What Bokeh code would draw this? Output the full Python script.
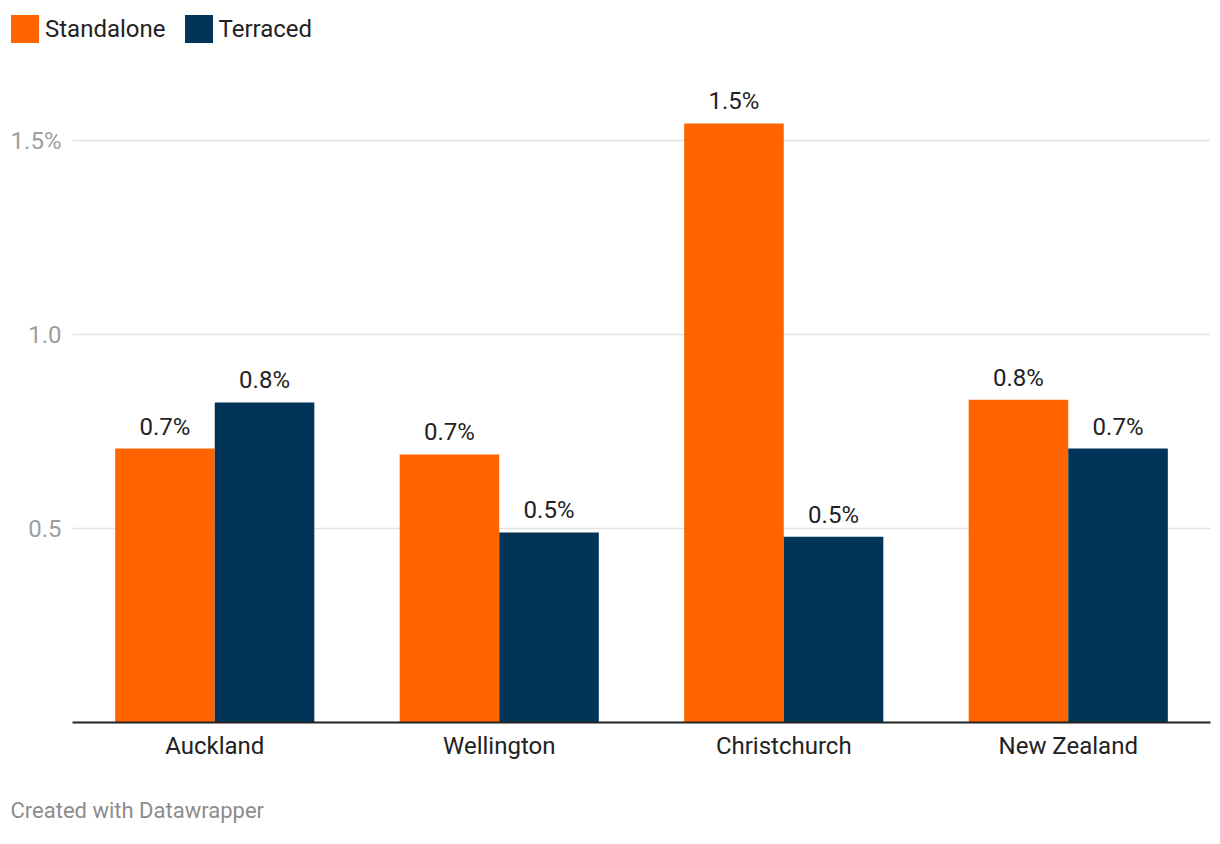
from bokeh.plotting import figure
from bokeh.models import ColumnDataSource, FactorRange, Range1d, FixedTicker, Legend, LegendItem, Title
from bokeh.layouts import column
from bokeh.transform import dodge
from bokeh.core.properties import value
from bokeh.embed import file_html
from bokeh.resources import INLINE

# ---- data ----
cities = ["Auckland", "Wellington", "Christchurch", "New Zealand"]
standalone = [0.706, 0.691, 1.544, 0.832]
terraced = [0.825, 0.490, 0.479, 0.706]
standalone_labels = ["0.7%", "0.7%", "1.5%", "0.8%"]
terraced_labels = ["0.8%", "0.5%", "0.5%", "0.7%"]
y_ticks = [0.5, 1.0, 1.5]
y_tick_labels = ["0.5", "1.0", "1.5%"]
series_names = ["Standalone", "Terraced"]
footer = "Created with Datawrapper"

ORANGE = "#ff6400"
NAVY = "#013458"
FONT = "Roboto"
W = 1220

src = ColumnDataSource(dict(city=cities, s=standalone, t=terraced,
                            sl=standalone_labels, tl=terraced_labels))

# ---- legend strip (hidden renderers only supply the swatch styles) ----
leg = figure(width=W, height=56, frame_width=W, frame_height=56, min_border=0,
             x_range=Range1d(0, 1), y_range=Range1d(0, 1),
             x_axis_location=None, y_axis_location=None,
             output_backend="svg", toolbar_location=None, outline_line_color=None,
             background_fill_color="white", border_fill_color="white")
leg.xgrid.visible = False
leg.ygrid.visible = False
d1 = leg.vbar(x="s", top="s", width=0.1, source=src, fill_color=ORANGE, line_color=None, visible=False)
d2 = leg.vbar(x="t", top="t", width=0.1, source=src, fill_color=NAVY, line_color=None, visible=False)
legend = Legend(items=[LegendItem(label=series_names[0], renderers=[d1]),
                       LegendItem(label=series_names[1], renderers=[d2])],
                location=(7, 10), orientation="horizontal",
                glyph_width=35, glyph_height=35, label_standoff=3, spacing=15,
                padding=0, margin=0, border_line_color=None, background_fill_alpha=0,
                inactive_fill_alpha=0,
                label_text_font=FONT, label_text_font_size="24px", label_text_color="#222222")
leg.add_layout(legend, "center")

# ---- main chart ----
p = figure(x_range=FactorRange(*cities), y_range=Range1d(0, 642 / 388),
           width=W, height=788, frame_width=1138, frame_height=642,
           min_border_left=72, min_border_right=10, min_border_top=24, min_border_bottom=122,
           output_backend="svg", toolbar_location=None, outline_line_color=None,
           background_fill_color="white", border_fill_color="white")

p.vbar(x=dodge("city", -0.175, range=p.x_range), top="s", width=0.35, source=src,
       fill_color=ORANGE, line_color=None)
p.vbar(x=dodge("city", 0.175, range=p.x_range), top="t", width=0.35, source=src,
       fill_color=NAVY, line_color=None)

p.text(x=dodge("city", -0.175, range=p.x_range), y="s", text="sl", source=src,
       text_align="center", text_baseline="alphabetic", y_offset=-22,
       text_font=value(FONT), text_font_size="24px", text_color="#222222")
p.text(x=dodge("city", 0.175, range=p.x_range), y="t", text="tl", source=src,
       text_align="center", text_baseline="alphabetic", y_offset=-22,
       text_font=value(FONT), text_font_size="24px", text_color="#222222")

p.xaxis.axis_line_color = "#222222"
p.xaxis.axis_line_width = 2
p.xaxis.major_tick_line_color = None
p.xaxis.minor_tick_line_color = None
p.xaxis.major_tick_out = 0
p.xaxis.major_label_standoff = 9
p.xaxis.major_label_text_font = FONT
p.xaxis.major_label_text_font_size = "24px"
p.xaxis.major_label_text_color = "#222222"

p.yaxis.ticker = FixedTicker(ticks=y_ticks)
p.yaxis.major_label_overrides = {t: l for t, l in zip(y_ticks, y_tick_labels)}
p.yaxis.axis_line_color = None
p.yaxis.major_tick_line_color = None
p.yaxis.minor_tick_line_color = None
p.yaxis.major_tick_out = 0
p.yaxis.major_label_standoff = 11
p.yaxis.major_label_text_font = FONT
p.yaxis.major_label_text_font_size = "24px"
p.yaxis.major_label_text_color = "#9e9e9e"

p.xgrid.grid_line_color = None
p.ygrid.ticker = FixedTicker(ticks=y_ticks)
p.ygrid.grid_line_color = "#e3e3e3"
p.ygrid.grid_line_width = 1.5

p.add_layout(Title(text=footer, align="left", offset=-62, standoff=66, text_font=FONT,
                   text_font_size="22px", text_font_style="normal", text_color="#8c8c8c"),
             "below")

layout = column(leg, p, spacing=0)
open("out.html", "w").write(file_html(layout, INLINE))
